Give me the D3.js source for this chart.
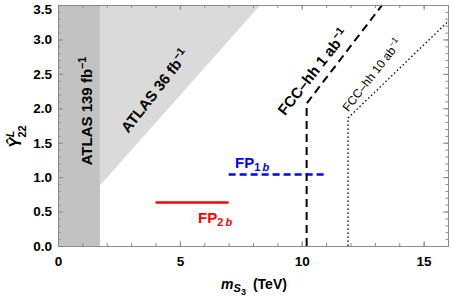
<!DOCTYPE html>
<html>
<head>
<meta charset="utf-8">
<script src="https://cdn.jsdelivr.net/npm/d3@7"></script>
<style>
  body { margin: 0; background: #fff; }
  svg text { font-family: "Liberation Sans", Arial, sans-serif; }
</style>
</head>
<body>
<div id="chart"></div>
<script>
// data (TeV, coupling)
const xDomain = [0, 16];
const yDomain = [0, 3.5];
const xMajor = [0, 5, 10, 15];
const yMajor = [0, 0.5, 1.0, 1.5, 2.0, 2.5, 3.0, 3.5];
const atlas139 = [[0, 0], [1.72, 0], [1.72, 3.5], [0, 3.5]];
const atlas36 = [[1.72, 0.88], [8.3, 3.5], [1.72, 3.5]];
const fcc1 = [[10.2, 0], [10.2, 2.07], [13.3, 3.5]];
const fcc10 = [[11.9, 0], [11.9, 1.86], [16, 3.26]];
const fp1b = [[7, 1.04], [11, 1.04]];
const fp2b = [[4, 0.63], [7, 0.63]];

const width = 450, height = 301;
const margin = {top: 5, right: 2, bottom: 55, left: 58};
const w = width - margin.left - margin.right;
const h = height - margin.top - margin.bottom;

const svg = d3.select('#chart').append('svg')
    .attr('width', width)
    .attr('height', height);

const chart = svg.append('g')
    .attr('transform', `translate(${margin.left},${margin.top})`);

const x = d3.scaleLinear().domain(xDomain).range([0, w]);
const y = d3.scaleLinear().domain(yDomain).range([h, 0]);
const line = d3.line().x(d => x(d[0])).y(d => y(d[1]));

// excluded regions
chart.append('path')
    .attr('d', line(atlas36) + 'Z')
    .attr('fill', '#dadada');
chart.append('path')
    .attr('d', line(atlas139) + 'Z')
    .attr('fill', '#c2c2c2');

// projections
chart.append('path')
    .attr('d', line(fcc1))
    .attr('fill', 'none')
    .attr('stroke', '#000')
    .attr('stroke-width', 2)
    .attr('stroke-dasharray', '8,5');
chart.append('path')
    .attr('d', line(fcc10))
    .attr('fill', 'none')
    .attr('stroke', '#000')
    .attr('stroke-width', 1.3)
    .attr('stroke-dasharray', '1.5,2.5');

// benchmark points
chart.append('path')
    .attr('d', line(fp1b))
    .attr('fill', 'none')
    .attr('stroke', '#0000ff')
    .attr('stroke-width', 2.5)
    .attr('stroke-dasharray', '7,4');
chart.append('path')
    .attr('d', line(fp2b))
    .attr('fill', 'none')
    .attr('stroke', '#ff0000')
    .attr('stroke-width', 2.5);

// axes: frame with inward ticks
const xMinor = d3.range(0, 17, 1);
const yMinor = d3.range(0, 3.501, 0.1);
const axisColor = '#8a8a8a';

function styleAxis(g) {
  g.select('.domain').attr('stroke', axisColor);
  g.selectAll('.tick line').attr('stroke', axisColor);
  g.selectAll('.tick text')
      .attr('fill', '#000')
      .style('font-size', '13.5px')
      .style('font-weight', 'bold');
}

chart.append('g')
    .attr('transform', `translate(0,${h})`)
    .call(d3.axisBottom(x).tickValues(xMinor).tickSize(-3).tickFormat(''))
    .call(styleAxis);
chart.append('g')
    .attr('transform', `translate(0,${h})`)
    .call(d3.axisBottom(x).tickValues(xMajor).tickSizeInner(-5).tickSizeOuter(0).tickPadding(10).tickFormat(d3.format('d')))
    .call(styleAxis);
chart.append('g')
    .call(d3.axisTop(x).tickValues(xMinor).tickSize(-3).tickFormat(''))
    .call(styleAxis);
chart.append('g')
    .call(d3.axisTop(x).tickValues(xMajor).tickSizeInner(-5).tickSizeOuter(0).tickFormat(''))
    .call(styleAxis);

chart.append('g')
    .call(d3.axisLeft(y).tickValues(yMinor).tickSize(-2.5).tickFormat(''))
    .call(styleAxis);
chart.append('g')
    .call(d3.axisLeft(y).tickValues(yMajor).tickSizeInner(-5).tickSizeOuter(0).tickPadding(6).tickFormat(d3.format('.1f')))
    .call(styleAxis)
    // keep the top label inside the picture
    .call(g => g.selectAll('.tick text').filter(d => d === 3.5).attr('dy', '0.62em'));
chart.append('g')
    .attr('transform', `translate(${w},0)`)
    .call(d3.axisRight(y).tickValues(yMinor).tickSize(-2.5).tickFormat(''))
    .call(styleAxis);
chart.append('g')
    .attr('transform', `translate(${w},0)`)
    .call(d3.axisRight(y).tickValues(yMajor).tickSizeInner(-5).tickSizeOuter(0).tickFormat(''))
    .call(styleAxis);

// axis titles
const xt = svg.append('text')
    .attr('x', 254)
    .attr('y', 289)
    .attr('text-anchor', 'middle')
    .style('font-size', '14px')
    .style('font-weight', 'bold');
xt.append('tspan').style('font-style', 'italic').text('m');
xt.append('tspan').attr('dy', 3).style('font-style', 'italic').style('font-size', '11px').text('S');
xt.append('tspan').attr('dy', 3).style('font-size', '9px').text('3');
xt.append('tspan').attr('dy', -6).text('\u2002(TeV)');

const yt = svg.append('text')
    .attr('transform', 'translate(21,148) rotate(-90)')
    .style('font-size', '16px')
    .style('font-weight', 'bold');
yt.append('tspan').style('font-style', 'italic').text('\u0176');
yt.append('tspan').attr('dy', -7).style('font-size', '11px').style('font-style', 'italic').text('L');
yt.append('tspan').attr('dx', -7).attr('dy', 12).style('font-size', '11px').text('22');

// region labels
function label(cx, cy, angle, size, weight, main, sup) {
  const t = svg.append('text')
      .attr('transform', `translate(${cx},${cy}) rotate(${angle})`)
      .attr('text-anchor', 'middle')
      .attr('dy', '0.35em')
      .style('font-size', size + 'px')
      .style('font-weight', weight);
  t.append('tspan').text(main);
  t.append('tspan').attr('dy', -size * 0.4).style('font-size', (size * 0.72) + 'px').text(sup);
  return t;
}
label(87, 111, -90, 15, 'bold', 'ATLAS 139 fb', '\u22121');
label(155, 91, -52, 15, 'bold', 'ATLAS 36 fb', '\u22121');
label(313, 72, -52, 15, 'bold', 'FCC\u2013hh 1 ab', '\u22121');
label(372, 75, -52, 12, 'normal', 'FCC\u2013hh 10 ab', '\u22121');

// benchmark labels
function fpLabel(x0, y0, color, idx) {
  const t = svg.append('text')
      .attr('x', x0)
      .attr('y', y0)
      .attr('fill', color)
      .style('font-size', '15px')
      .style('font-weight', 'bold');
  t.append('tspan').text('FP');
  t.append('tspan').attr('dy', 3).style('font-size', '11px').text(idx + '\u2009');
  t.append('tspan').style('font-size', '11px').style('font-style', 'italic').text('b');
}
fpLabel(235, 168, '#0000ff', 1);
fpLabel(198, 223, '#ff0000', 2);
</script>
</body>
</html>
